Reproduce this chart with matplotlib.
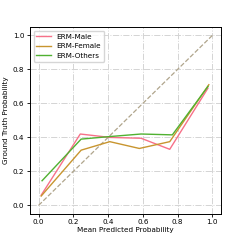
import matplotlib
matplotlib.use('Agg')
import matplotlib.pyplot as plt

male_x = [0.015, 0.24, 0.41, 0.59, 0.755, 0.975]
male_y = [0.06, 0.42, 0.40, 0.395, 0.33, 0.69]
female_x = [0.015, 0.245, 0.41, 0.58, 0.755, 0.98]
female_y = [0.055, 0.325, 0.375, 0.335, 0.375, 0.71]
others_x = [0.02, 0.245, 0.41, 0.59, 0.77, 0.975]
others_y = [0.145, 0.39, 0.405, 0.42, 0.415, 0.70]
diag = [0, 1]

fig = plt.figure(figsize=(2.45, 2.45), dpi=100)
ax = fig.add_axes([0.122, 0.127, 0.78, 0.763])

ax.plot(diag, diag, '--', color='#b0a58c', lw=0.9)
ax.plot(male_x, male_y, color='#f77189', lw=1.0, label='ERM-Male')
ax.plot(female_x, female_y, color='#c8952f', lw=1.0, label='ERM-Female')
ax.plot(others_x, others_y, color='#50b131', lw=1.0, label='ERM-Others')

ax.set_xticks([0, 0.2, 0.4, 0.6, 0.8, 1.0])
ax.set_yticks([0, 0.2, 0.4, 0.6, 0.8, 1.0])
ax.tick_params(labelsize=5.2, length=2, width=0.6, pad=2)
ax.set_xlabel('Mean Predicted Probability', fontsize=5.2, labelpad=1)
ax.set_ylabel('Ground Truth Probability', fontsize=5.2, labelpad=3)
ax.grid(True, linestyle='-.', color='#d4d4d4', lw=0.7)
for s in ax.spines.values():
    s.set_linewidth(0.7)
ax.legend(loc='upper left', fontsize=5.2, handlelength=2.0, framealpha=0.8)

fig.savefig('out.png', dpi=100)
